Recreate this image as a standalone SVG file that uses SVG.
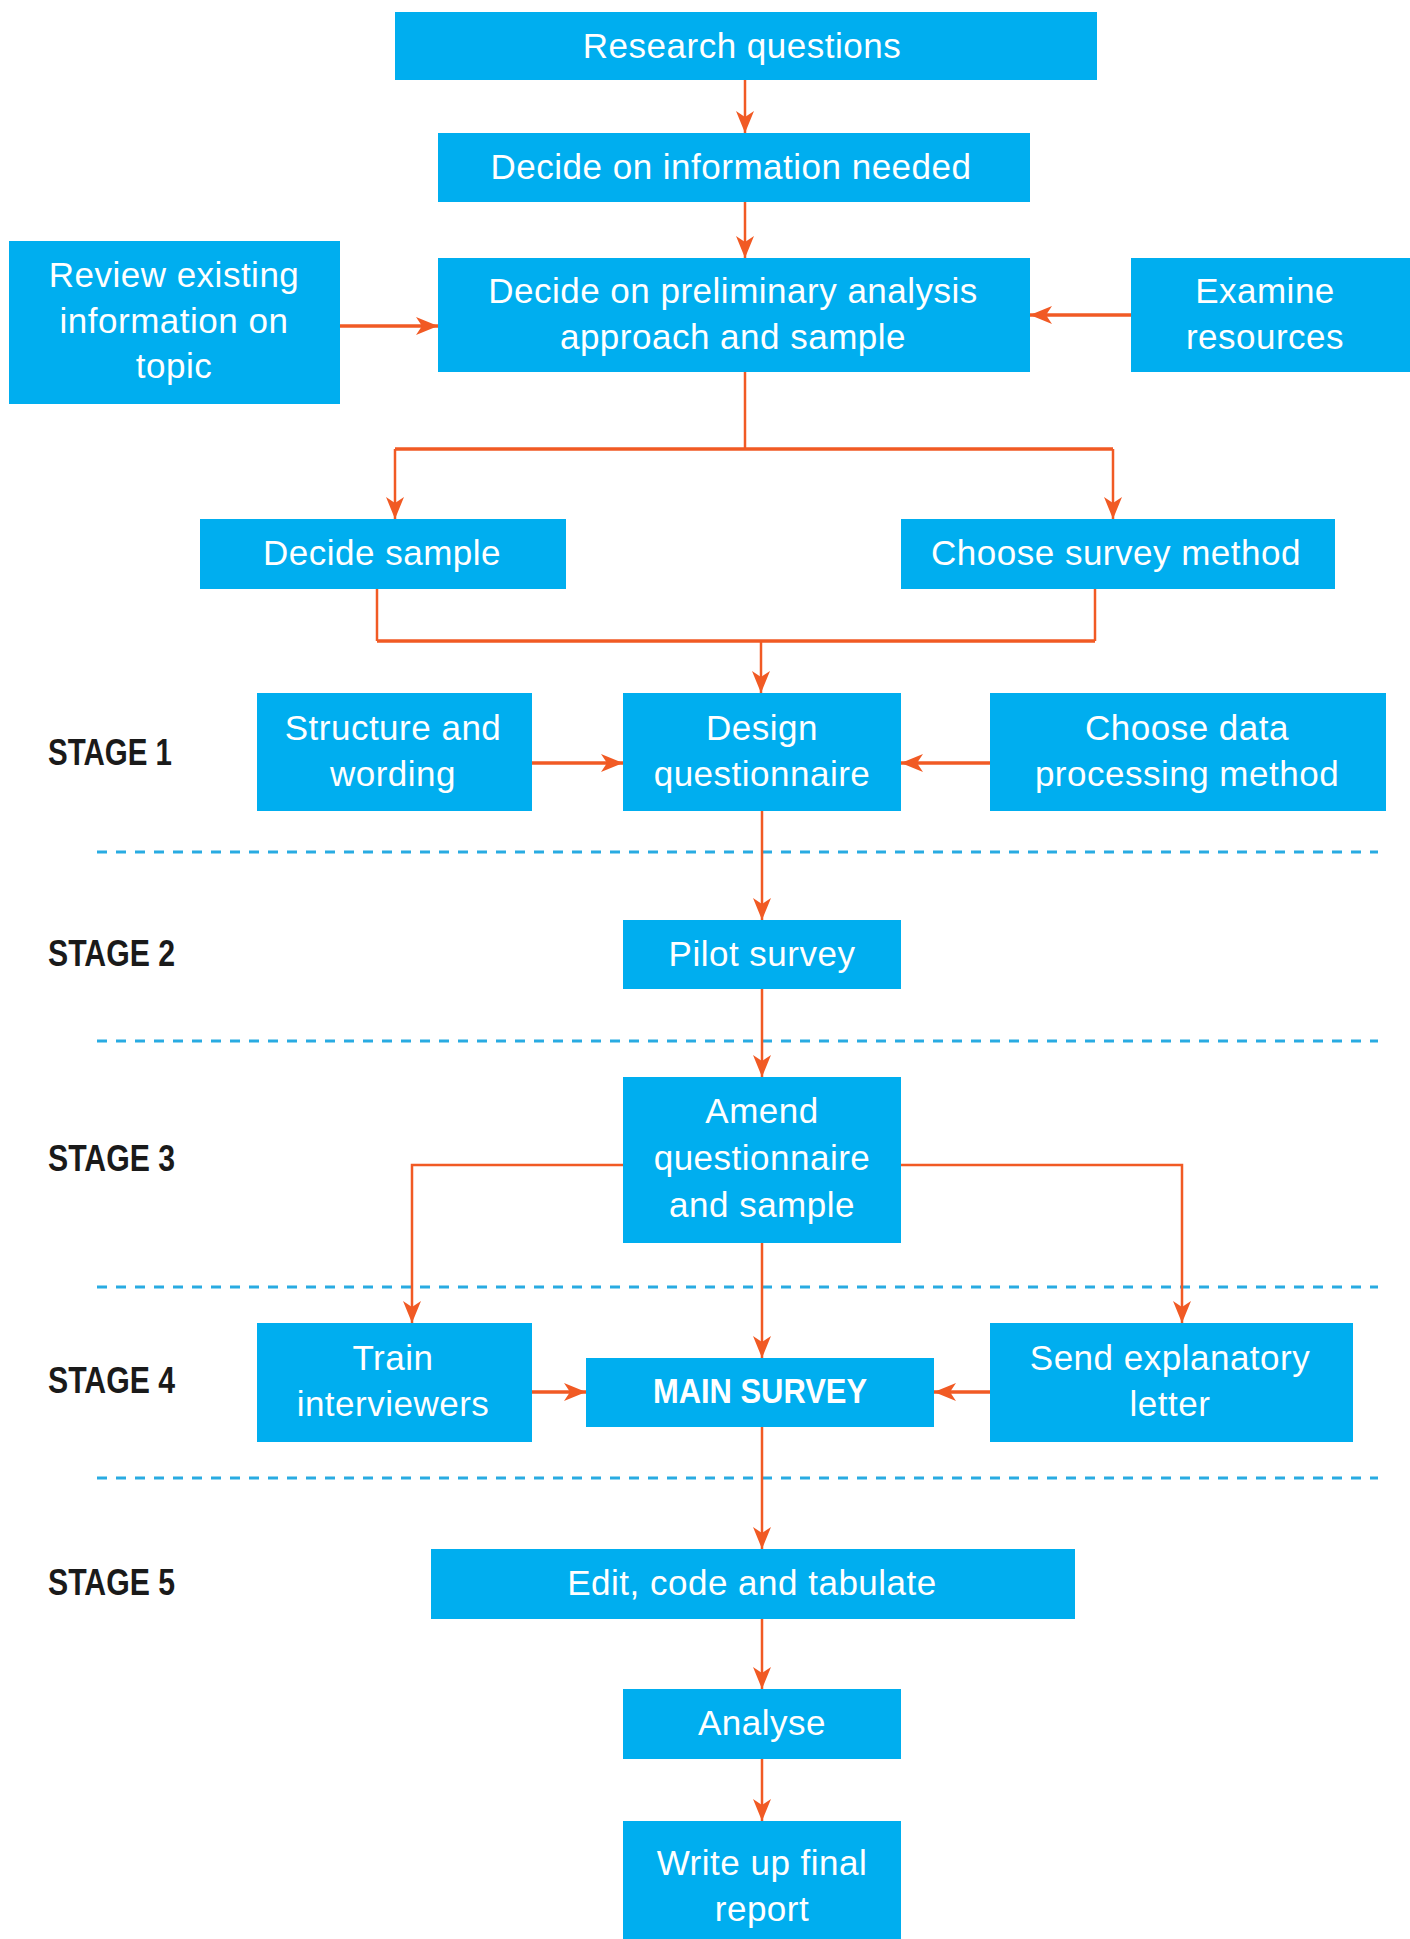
<svg xmlns="http://www.w3.org/2000/svg" width="1410" height="1939" viewBox="0 0 1410 1939">
  <defs>
    <style>
      .box { fill: #00AEEF; }
      .lbl { font-family: "Liberation Sans", Arial, sans-serif; font-size: 35px; fill: #ffffff; text-anchor: middle; letter-spacing: 0.5px; }
      .bold { font-weight: bold; letter-spacing: 0; }
      .stage { font-family: "Liberation Sans", Arial, sans-serif; font-weight: bold; font-size: 37px; fill: #1a1a1a; }
      .link { fill: none; stroke: #F15A24; stroke-width: 2.5; }
      .thick { stroke-width: 3.5; }
      .divider { fill: none; stroke: #29ABE2; stroke-width: 3; stroke-dasharray: 10 9; }
    </style>
    <marker id="arrow" markerUnits="userSpaceOnUse" markerWidth="24" markerHeight="20" refX="22" refY="9" orient="auto">
      <path d="M0,0 L22,9 L0,18 L6,9 z" fill="#F15A24"/>
    </marker>
  </defs>
  <rect width="1410" height="1939" fill="#ffffff"/>

  <!-- stage dividers -->
  <g id="dividers">
    <line class="divider" x1="97" y1="852" x2="1378" y2="852"/>
    <line class="divider" x1="97" y1="1041" x2="1378" y2="1041"/>
    <line class="divider" x1="97" y1="1287" x2="1378" y2="1287"/>
    <line class="divider" x1="97" y1="1478" x2="1378" y2="1478"/>
  </g>

  <!-- stage labels -->
  <g id="stages">
    <text class="stage" x="48" y="765" textLength="124" lengthAdjust="spacingAndGlyphs">STAGE 1</text>
    <text class="stage" x="48" y="966" textLength="127" lengthAdjust="spacingAndGlyphs">STAGE 2</text>
    <text class="stage" x="48" y="1171" textLength="127" lengthAdjust="spacingAndGlyphs">STAGE 3</text>
    <text class="stage" x="48" y="1393" textLength="127" lengthAdjust="spacingAndGlyphs">STAGE 4</text>
    <text class="stage" x="48" y="1595" textLength="127" lengthAdjust="spacingAndGlyphs">STAGE 5</text>
  </g>

  <!-- connectors -->
  <g id="connectors">
    <line class="link" x1="745" y1="80" x2="745" y2="133" marker-end="url(#arrow)"/>
    <line class="link" x1="745" y1="202" x2="745" y2="258" marker-end="url(#arrow)"/>
    <line class="link thick" x1="340" y1="326" x2="438" y2="326" marker-end="url(#arrow)"/>
    <line class="link thick" x1="1131" y1="315" x2="1030" y2="315" marker-end="url(#arrow)"/>
    <polyline class="link" points="745,372 745,449"/>
    <polyline class="link thick" points="395,449 1113,449"/>
    <line class="link" x1="395" y1="449" x2="395" y2="519" marker-end="url(#arrow)"/>
    <line class="link" x1="1113" y1="449" x2="1113" y2="519" marker-end="url(#arrow)"/>
    <polyline class="link" points="377,589 377,641"/>
    <polyline class="link" points="1095,589 1095,641"/>
    <polyline class="link thick" points="377,641 1095,641"/>
    <line class="link" x1="761" y1="641" x2="761" y2="693" marker-end="url(#arrow)"/>
    <line class="link thick" x1="532" y1="763" x2="623" y2="763" marker-end="url(#arrow)"/>
    <line class="link thick" x1="990" y1="763" x2="901" y2="763" marker-end="url(#arrow)"/>
    <line class="link" x1="762" y1="811" x2="762" y2="920" marker-end="url(#arrow)"/>
    <line class="link" x1="762" y1="989" x2="762" y2="1077" marker-end="url(#arrow)"/>
    <polyline class="link" points="623,1165 412,1165 412,1323" marker-end="url(#arrow)"/>
    <polyline class="link" points="901,1165 1182,1165 1182,1323" marker-end="url(#arrow)"/>
    <line class="link" x1="762" y1="1243" x2="762" y2="1358" marker-end="url(#arrow)"/>
    <line class="link thick" x1="532" y1="1392" x2="586" y2="1392" marker-end="url(#arrow)"/>
    <line class="link thick" x1="990" y1="1392" x2="934" y2="1392" marker-end="url(#arrow)"/>
    <line class="link" x1="762" y1="1427" x2="762" y2="1549" marker-end="url(#arrow)"/>
    <line class="link" x1="762" y1="1619" x2="762" y2="1689" marker-end="url(#arrow)"/>
    <line class="link" x1="762" y1="1759" x2="762" y2="1821" marker-end="url(#arrow)"/>
  </g>

  <!-- nodes -->
  <g id="research-questions">
    <rect class="box" x="395" y="12" width="702" height="68"/>
    <text class="lbl" x="742" y="58">Research questions</text>
  </g>
  <g id="information-needed">
    <rect class="box" x="438" y="133" width="592" height="69"/>
    <text class="lbl" x="731" y="179">Decide on information needed</text>
  </g>
  <g id="preliminary-analysis">
    <rect class="box" x="438" y="258" width="592" height="114"/>
    <text class="lbl" x="733" y="303">Decide on preliminary analysis</text>
    <text class="lbl" x="733" y="349">approach and sample</text>
  </g>
  <g id="review-existing">
    <rect class="box" x="9" y="241" width="331" height="163"/>
    <text class="lbl" x="174" y="287">Review existing</text>
    <text class="lbl" x="174" y="333">information on</text>
    <text class="lbl" x="174" y="378">topic</text>
  </g>
  <g id="examine-resources">
    <rect class="box" x="1131" y="258" width="279" height="114"/>
    <text class="lbl" x="1265" y="303">Examine</text>
    <text class="lbl" x="1265" y="349">resources</text>
  </g>
  <g id="decide-sample">
    <rect class="box" x="200" y="519" width="366" height="70"/>
    <text class="lbl" x="382" y="565">Decide sample</text>
  </g>
  <g id="choose-survey-method">
    <rect class="box" x="901" y="519" width="434" height="70"/>
    <text class="lbl" x="1116" y="565">Choose survey method</text>
  </g>
  <g id="structure-wording">
    <rect class="box" x="257" y="693" width="275" height="118"/>
    <text class="lbl" x="393" y="740">Structure and</text>
    <text class="lbl" x="393" y="786">wording</text>
  </g>
  <g id="design-questionnaire">
    <rect class="box" x="623" y="693" width="278" height="118"/>
    <text class="lbl" x="762" y="740">Design</text>
    <text class="lbl" x="762" y="786">questionnaire</text>
  </g>
  <g id="data-processing">
    <rect class="box" x="990" y="693" width="396" height="118"/>
    <text class="lbl" x="1187" y="740">Choose data</text>
    <text class="lbl" x="1187" y="786">processing method</text>
  </g>
  <g id="pilot-survey">
    <rect class="box" x="623" y="920" width="278" height="69"/>
    <text class="lbl" x="762" y="966">Pilot survey</text>
  </g>
  <g id="amend">
    <rect class="box" x="623" y="1077" width="278" height="166"/>
    <text class="lbl" x="762" y="1123">Amend</text>
    <text class="lbl" x="762" y="1170">questionnaire</text>
    <text class="lbl" x="762" y="1217">and sample</text>
  </g>
  <g id="train-interviewers">
    <rect class="box" x="257" y="1323" width="275" height="119"/>
    <text class="lbl" x="393" y="1370">Train</text>
    <text class="lbl" x="393" y="1416">interviewers</text>
  </g>
  <g id="main-survey">
    <rect class="box" x="586" y="1358" width="348" height="69"/>
    <text class="lbl bold" x="760" y="1403" textLength="214" lengthAdjust="spacingAndGlyphs">MAIN SURVEY</text>
  </g>
  <g id="explanatory-letter">
    <rect class="box" x="990" y="1323" width="363" height="119"/>
    <text class="lbl" x="1170" y="1370">Send explanatory</text>
    <text class="lbl" x="1170" y="1416">letter</text>
  </g>
  <g id="edit-code-tabulate">
    <rect class="box" x="431" y="1549" width="644" height="70"/>
    <text class="lbl" x="752" y="1595">Edit, code and tabulate</text>
  </g>
  <g id="analyse">
    <rect class="box" x="623" y="1689" width="278" height="70"/>
    <text class="lbl" x="762" y="1735">Analyse</text>
  </g>
  <g id="final-report">
    <rect class="box" x="623" y="1821" width="278" height="118"/>
    <text class="lbl" x="762" y="1875">Write up final</text>
    <text class="lbl" x="762" y="1921">report</text>
  </g>
</svg>
